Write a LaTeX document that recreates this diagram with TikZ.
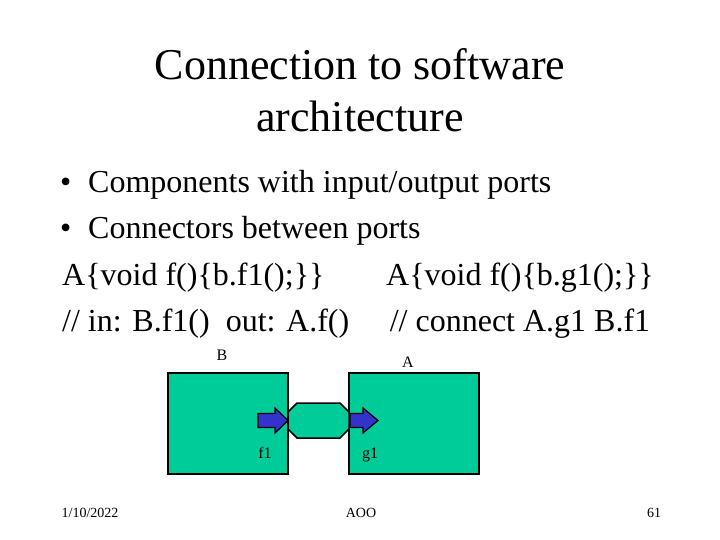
\documentclass[tikz,border=0pt]{standalone}
\usepackage{fontspec}
\setmainfont{Liberation Serif}
\definecolor{teal1}{RGB}{0,204,153}
\definecolor{blue1}{RGB}{51,51,204}
\begin{document}
\begin{tikzpicture}[x=1pt,y=-1pt,
  title/.style={anchor=base,inner sep=0,font=\fontsize{44}{52}\selectfont},
  body/.style={anchor=base west,inner sep=0,font=\fontsize{32}{38}\selectfont},
  bodyc/.style={anchor=base,inner sep=0,font=\fontsize{32}{38}\selectfont},
  lbl/.style={anchor=base,inner sep=0,font=\fontsize{16}{19}\selectfont},
  foot/.style={anchor=center,inner sep=0,font=\fontsize{14}{16}\selectfont},
  compbox/.style={draw=black,line width=1.5pt,fill=teal1,inner sep=0},
  conn/.style={draw=black,line width=1.5pt,fill=teal1,line join=miter},
  port/.style={draw=black,line width=1.2pt,fill=blue1,line join=miter}]
\useasboundingbox (0,0) rectangle (720,540);
% title
\node[title] (t1) at (360,80) {Connection to software};
\node[title] (t2) at (360,132) {architecture};
% body
\node[body] (b1) at (60,193) {\textbullet};
\node[body] (l1) at (88,193) {Components with input/output ports};
\node[body] (b2) at (60,239) {\textbullet};
\node[body] (l2) at (88,239) {Connectors between ports};
\node[body] (l3a) at (62,285) {A\{void f()\{b.f1();\}\}};
\node[bodyc] (l3b) at (520,285) {A\{void f()\{b.g1();\}\}};
\node[body] (l4a) at (62,331) {// in: B.f1()\ \ out: A.f()};
\node[bodyc] (l4b) at (520,331) {// connect A.g1 B.f1};
% components
\node[compbox,minimum width=120pt,minimum height=101pt] (B) at (228,423.5) {};
\node[compbox,minimum width=130pt,minimum height=101pt] (A) at (414,423.5) {};
% connector
\draw[conn] (288,412) -- (297,403) -- (340,403) -- (349,412) -- (349,429) -- (340,438) -- (297,438) -- (288,429) -- cycle;
% ports
\draw[port] (258,413.5) -- (275,413.5) -- (275,408) -- (288,420.5) -- (275,433) -- (275,427.5) -- (258,427.5) -- cycle;
\draw[port] (350,413.5) -- (363,413.5) -- (363,408) -- (378,420.5) -- (363,433) -- (363,427.5) -- (350,427.5) -- cycle;
% labels
\node[lbl] (lB) at (222,360) {B};
\node[lbl] (lA) at (408,367) {A};
\node[lbl] (lf1) at (265,458) {f1};
\node[lbl] (lg1) at (370,458) {g1};
% footer
\node[foot] (d) at (90,513) {1/10/2022};
\node[foot] (c) at (361,513) {AOO};
\node[foot] (n) at (654,513) {61};
\end{tikzpicture}
\end{document}
